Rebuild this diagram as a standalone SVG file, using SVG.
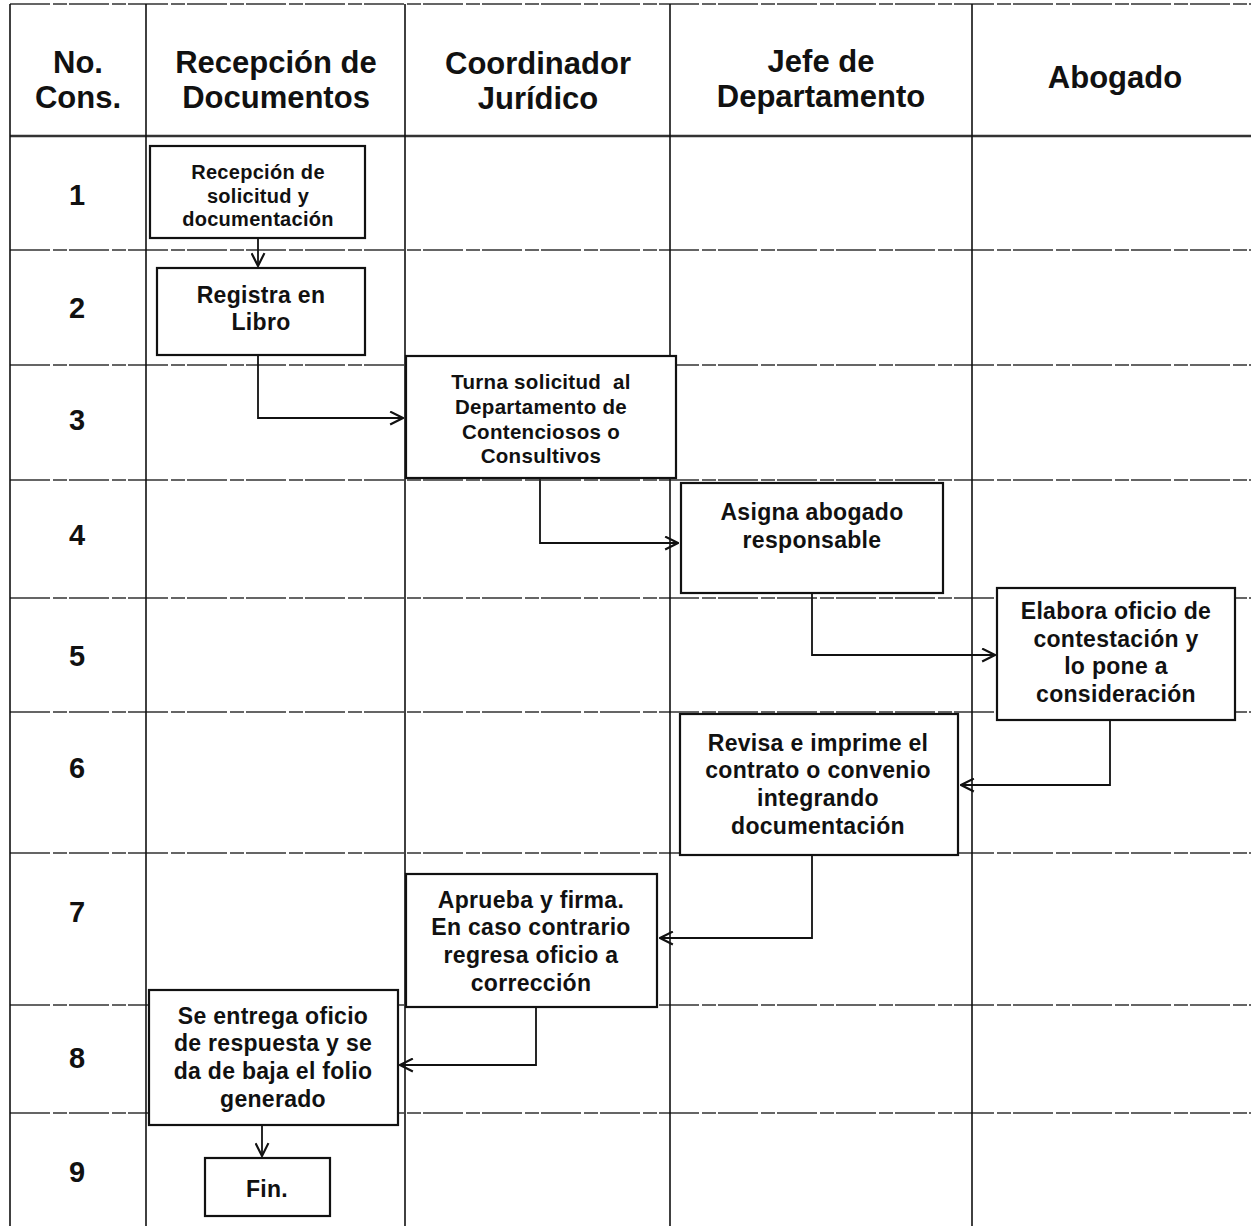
<svg xmlns="http://www.w3.org/2000/svg" width="1251" height="1226" viewBox="0 0 1251 1226">
<defs>
<marker id="arr" viewBox="0 0 14 14" refX="13" refY="7" markerWidth="15" markerHeight="15" markerUnits="userSpaceOnUse" orient="auto">
<path d="M1,1 L13,7 L1,13" fill="none" stroke="#111" stroke-width="2"/>
</marker>
<style>
.grid-h{stroke:#333;stroke-width:1.4;stroke-dasharray:40 3 14 2;fill:none}
.grid-hh{stroke:#333;stroke-width:2.6;fill:none}
.grid-v{stroke:#111;stroke-width:1.6;fill:none}
.box{fill:#fff;stroke:#111;stroke-width:2.2}
.hdr{font-family:"Liberation Sans",Arial,sans-serif;font-weight:bold;font-size:31px;fill:#111;text-anchor:middle}
.num{font-family:"Liberation Sans",Arial,sans-serif;font-weight:bold;font-size:29px;fill:#111;text-anchor:middle}
.t{font-family:"Liberation Sans",Arial,sans-serif;font-weight:bold;font-size:23px;letter-spacing:0.3px;fill:#111;text-anchor:middle}
.ts{font-family:"Liberation Sans",Arial,sans-serif;font-weight:bold;font-size:20px;letter-spacing:0.3px;fill:#111;text-anchor:middle}
.tm{font-family:"Liberation Sans",Arial,sans-serif;font-weight:bold;font-size:20.5px;letter-spacing:0.3px;fill:#111;text-anchor:middle}
.conn{fill:none;stroke:#111;stroke-width:1.8}
</style>
</defs>
<rect x="0" y="0" width="1251" height="1226" fill="#fff"/>
<g id="grid">
<line class="grid-h" x1="10" y1="4" x2="1251" y2="4"/>
<line class="grid-hh" x1="10" y1="136" x2="1251" y2="136"/>
<line class="grid-h" x1="10" y1="250" x2="1251" y2="250"/>
<line class="grid-h" x1="10" y1="365" x2="1251" y2="365"/>
<line class="grid-h" x1="10" y1="480" x2="1251" y2="480"/>
<line class="grid-h" x1="10" y1="598" x2="1251" y2="598"/>
<line class="grid-h" x1="10" y1="712" x2="1251" y2="712"/>
<line class="grid-h" x1="10" y1="853" x2="1251" y2="853"/>
<line class="grid-h" x1="10" y1="1005" x2="1251" y2="1005"/>
<line class="grid-h" x1="10" y1="1113" x2="1251" y2="1113"/>
<line class="grid-v" x1="10" y1="4" x2="10" y2="1226"/>
<line class="grid-v" x1="146" y1="4" x2="146" y2="1226"/>
<line class="grid-v" x1="405" y1="4" x2="405" y2="1226"/>
<line class="grid-v" x1="670" y1="4" x2="670" y2="1226"/>
<line class="grid-v" x1="972" y1="4" x2="972" y2="1226"/>
</g>
<g id="header">
<text class="hdr" x="78" y="73">No.</text>
<text class="hdr" x="78" y="108">Cons.</text>
<text class="hdr" x="276" y="73">Recepción de</text>
<text class="hdr" x="276" y="108">Documentos</text>
<text class="hdr" x="538" y="74">Coordinador</text>
<text class="hdr" x="538" y="109">Jurídico</text>
<text class="hdr" x="821" y="72">Jefe de</text>
<text class="hdr" x="821" y="107">Departamento</text>
<text class="hdr" x="1115" y="88">Abogado</text>
</g>
<g id="row-numbers">
<text class="num" x="77" y="205">1</text>
<text class="num" x="77" y="318">2</text>
<text class="num" x="77" y="430">3</text>
<text class="num" x="77" y="545">4</text>
<text class="num" x="77" y="666">5</text>
<text class="num" x="77" y="778">6</text>
<text class="num" x="77" y="922">7</text>
<text class="num" x="77" y="1068">8</text>
<text class="num" x="77" y="1182">9</text>
</g>
<g id="connectors">
<path class="conn" d="M258,238 L258,266" marker-end="url(#arr)"/>
<path class="conn" d="M258,355 L258,418 L403,418" marker-end="url(#arr)"/>
<path class="conn" d="M540,478 L540,543 L678,543" marker-end="url(#arr)"/>
<path class="conn" d="M812,593 L812,655 L995,655" marker-end="url(#arr)"/>
<path class="conn" d="M1110,720 L1110,785 L961,785" marker-end="url(#arr)"/>
<path class="conn" d="M812,855 L812,938 L660,938" marker-end="url(#arr)"/>
<path class="conn" d="M536,1007 L536,1065 L400,1065" marker-end="url(#arr)"/>
<path class="conn" d="M262,1125 L262,1156" marker-end="url(#arr)"/>
</g>
<g id="n1">
<rect class="box" x="150" y="146" width="215" height="92"/>
<text class="ts" x="258" y="179">Recepción de</text>
<text class="ts" x="258" y="203">solicitud y</text>
<text class="ts" x="258" y="226">documentación</text>
</g>
<g id="n2">
<rect class="box" x="157" y="268" width="208" height="87"/>
<text class="t" x="261" y="303">Registra en</text>
<text class="t" x="261" y="330">Libro</text>
</g>
<g id="n3">
<rect class="box" x="406" y="356" width="270" height="122"/>
<text class="tm" x="541" y="389">Turna solicitud&#160; al</text>
<text class="tm" x="541" y="414">Departamento de</text>
<text class="tm" x="541" y="439">Contenciosos o</text>
<text class="tm" x="541" y="463">Consultivos</text>
</g>
<g id="n4">
<rect class="box" x="681" y="483" width="262" height="110"/>
<text class="t" x="812" y="520">Asigna abogado</text>
<text class="t" x="812" y="548">responsable</text>
</g>
<g id="n5">
<rect class="box" x="997" y="588" width="238" height="132"/>
<text class="t" x="1116" y="619">Elabora oficio de</text>
<text class="t" x="1116" y="647">contestación y</text>
<text class="t" x="1116" y="674">lo pone a</text>
<text class="t" x="1116" y="702">consideración</text>
</g>
<g id="n6">
<rect class="box" x="680" y="714" width="278" height="141"/>
<text class="t" x="818" y="751">Revisa e imprime el</text>
<text class="t" x="818" y="778">contrato o convenio</text>
<text class="t" x="818" y="806">integrando</text>
<text class="t" x="818" y="834">documentación</text>
</g>
<g id="n7">
<rect class="box" x="406" y="874" width="251" height="133"/>
<text class="t" x="531" y="908">Aprueba y firma.</text>
<text class="t" x="531" y="935">En caso contrario</text>
<text class="t" x="531" y="963">regresa oficio a</text>
<text class="t" x="531" y="991">corrección</text>
</g>
<g id="n8">
<rect class="box" x="149" y="990" width="249" height="135"/>
<text class="t" x="273" y="1024">Se entrega oficio</text>
<text class="t" x="273" y="1051">de respuesta y se</text>
<text class="t" x="273" y="1079">da de baja el folio</text>
<text class="t" x="273" y="1107">generado</text>
</g>
<g id="n9">
<rect class="box" x="205" y="1158" width="125" height="58"/>
<text class="t" x="267" y="1197">Fin.</text>
</g>
</svg>
